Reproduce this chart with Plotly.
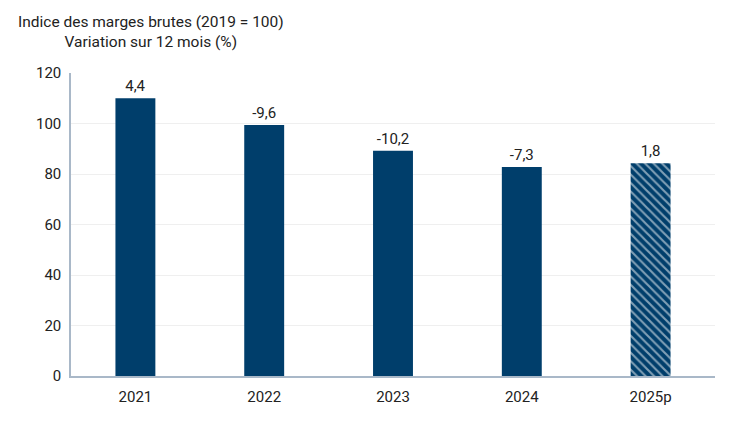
import plotly.graph_objects as go

categories = ["2021", "2022", "2023", "2024", "2025p"]
index_values = [110.0, 99.4, 89.2, 82.8, 84.3]
variation_labels = ["4,4", "-9,6", "-10,2", "-7,3", "1,8"]
tick_vals = [0, 20, 40, 60, 80, 100, 120]

navy = "#003e6b"
font_family = "Roboto, Inter, Arial, sans-serif"
txt = "#222222"

fig = go.Figure()
fig.add_trace(go.Bar(
    x=categories[:4], y=index_values[:4],
    text=variation_labels[:4], textposition="outside",
    textfont=dict(size=15, color=txt, family=font_family),
    marker=dict(color=navy, line=dict(width=0)),
    width=0.31, cliponaxis=False, showlegend=False,
))
fig.add_trace(go.Bar(
    x=categories[4:], y=index_values[4:],
    text=variation_labels[4:], textposition="outside",
    textfont=dict(size=15, color=txt, family=font_family),
    marker=dict(color=navy, line=dict(width=0),
                pattern=dict(shape="\\", fgcolor="white", bgcolor=navy, size=6, solidity=0.35)),
    width=0.31, cliponaxis=False, showlegend=False,
))

# page body has an 8px default margin; margins compensate so the plot lands where the reference has it
fig.update_layout(
    width=750, height=422,
    margin=dict(l=63, r=43, t=65, b=54),
    paper_bgcolor="white", plot_bgcolor="white",
    barmode="overlay",
    font=dict(family=font_family, size=15, color=txt),
    xaxis=dict(categoryorder="array", categoryarray=categories,
               showline=True, linecolor="#a9b8c8", linewidth=1.5,
               ticks="", ticklabelstandoff=6, tickfont=dict(size=15)),
    yaxis=dict(range=[0, 120], tickvals=tick_vals, showgrid=True,
               gridcolor="#efefef", gridwidth=1, showline=True,
               linecolor="#a9b8c8", linewidth=1.5, ticks="", zeroline=False,
               ticklabelstandoff=5, tickfont=dict(size=15)),
    annotations=[dict(
        text="Indice des marges brutes (2019 = 100)<br>Variation sur 12 mois (%)",
        xref="paper", yref="paper", x=-0.085, y=1.0, yshift=62,
        xanchor="left", yanchor="top", showarrow=False, align="center",
        font=dict(size=15.5, color=txt, family=font_family))],
)

fig.write_html("out.html")
